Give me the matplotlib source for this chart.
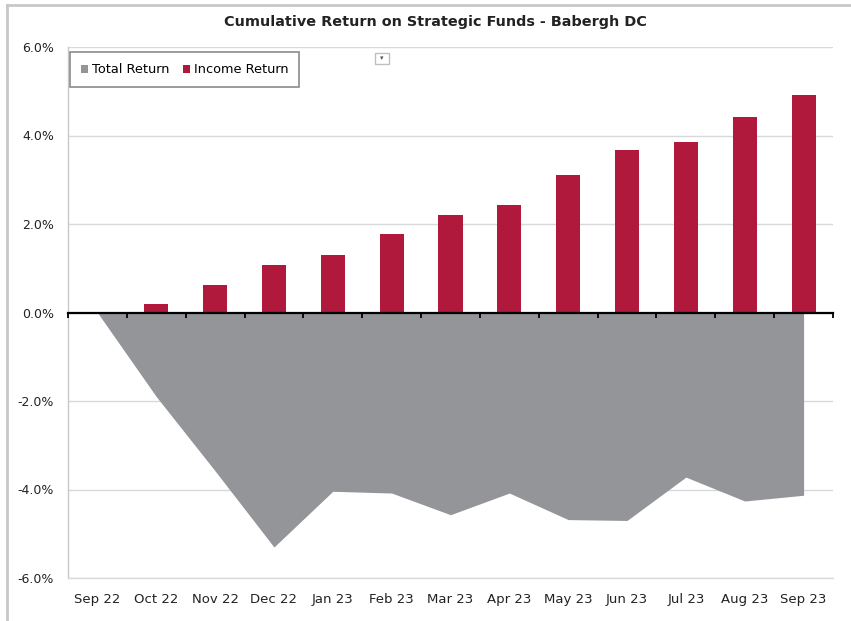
import numpy as np
import matplotlib
matplotlib.use("Agg")
import matplotlib.pyplot as plt
from matplotlib.patches import Patch, Rectangle
from matplotlib.lines import Line2D
from matplotlib.ticker import FuncFormatter

categories = ["Sep 22", "Oct 22", "Nov 22", "Dec 22", "Jan 23", "Feb 23", "Mar 23",
              "Apr 23", "May 23", "Jun 23", "Jul 23", "Aug 23", "Sep 23"]
income_return = [0.00, 0.20, 0.63, 1.08, 1.31, 1.77, 2.20, 2.42, 3.11, 3.67, 3.86, 4.41, 4.92]
total_return = [0.00, -1.90, -3.58, -5.30, -4.04, -4.08, -4.57, -4.08, -4.68, -4.70, -3.72, -4.26, -4.13]
yticks = [-6, -4, -2, 0, 2, 4, 6]

title = "Cumulative Return on Strategic Funds - Babergh DC"
grey = "#939598"
red = "#B0193C"

plt.rcParams['font.family'] = ['DejaVu Sans']

W, H = 851, 621
fig = plt.figure(figsize=(W / 100, H / 100), dpi=100)
ax = fig.add_axes([68 / W, 1 - 578 / H, (833 - 68) / W, (578 - 47) / H])

x = np.arange(len(categories))
ax.fill_between(x, total_return, 0, color=grey, linewidth=0, zorder=2)
ax.bar(x, income_return, width=0.41, color=red, zorder=3)

ax.set_xlim(-0.5, len(categories) - 0.5)
ax.set_ylim(-6, 6)
ax.set_yticks(yticks)
ax.yaxis.set_major_formatter(FuncFormatter(lambda v, p: f"{v:.1f}%"))
ax.set_xticks(x)
ax.set_xticklabels(categories)
ax.tick_params(axis='both', length=0, colors="#222222")
ax.tick_params(axis='x', pad=11, labelsize=9.5)
ax.tick_params(axis='y', pad=10, labelsize=9)
ax.grid(axis='y', color="#D9D9D9", linewidth=1, zorder=0)
ax.set_axisbelow(True)
for s in ['top', 'right']:
    ax.spines[s].set_visible(False)
ax.spines['bottom'].set_color("#D9D9D9")
ax.spines['bottom'].set_linewidth(1)
ax.spines['left'].set_color("#C8C8C8")
ax.spines['left'].set_linewidth(1)

# zero axis line with category-boundary ticks
sec = ax.secondary_xaxis(0, transform=ax.transData)
sec.set_zorder(10)
sec.set_xticks(np.arange(-0.5, len(categories), 1.0))
sec.set_xticklabels([])
sec.tick_params(direction='out', length=3.5, width=1.3, color='black')
sec.spines['bottom'].set_linewidth(1.6)
sec.spines['bottom'].set_color('black')

# legend
handles = [Patch(facecolor=grey, edgecolor='none', label="Total Return"),
           Patch(facecolor=red, edgecolor='none', label="Income Return")]
leg = ax.legend(handles=handles, ncol=2, loc='upper left', bbox_to_anchor=(0.003, 0.99),
                borderaxespad=0, fancybox=False, frameon=True, fontsize=9.3,
                handlelength=0.55, handleheight=0.55, handletextpad=0.3,
                columnspacing=1.0, borderpad=0.85)
leg.get_frame().set_edgecolor("#6E6E6E")
leg.get_frame().set_linewidth(1.2)
leg.set_zorder(20)

# title
fig.text(435 / W, 1 - 22 / H, title, ha='center', va='center', fontsize=10.4,
         fontweight='bold', color="#222222")

# small dropdown marker
fig.patches.append(Rectangle((375 / W, 1 - 64 / H), 14 / W, 11 / H, transform=fig.transFigure,
                             facecolor='white', edgecolor="#C0C0C0", linewidth=1))
fig.text(382 / W, 1 - 58 / H, "▾", ha='center', va='center', fontsize=5, color="#555555")

# outer chart border
fig.lines.append(Line2D([7 / W, 7 / W], [0, 1 - 5 / H], transform=fig.transFigure,
                        color="#C8C8C8", linewidth=2))
fig.lines.append(Line2D([7 / W, 1], [1 - 5 / H, 1 - 5 / H], transform=fig.transFigure,
                        color="#C8C8C8", linewidth=2))

fig.savefig("out.png", dpi=100)
